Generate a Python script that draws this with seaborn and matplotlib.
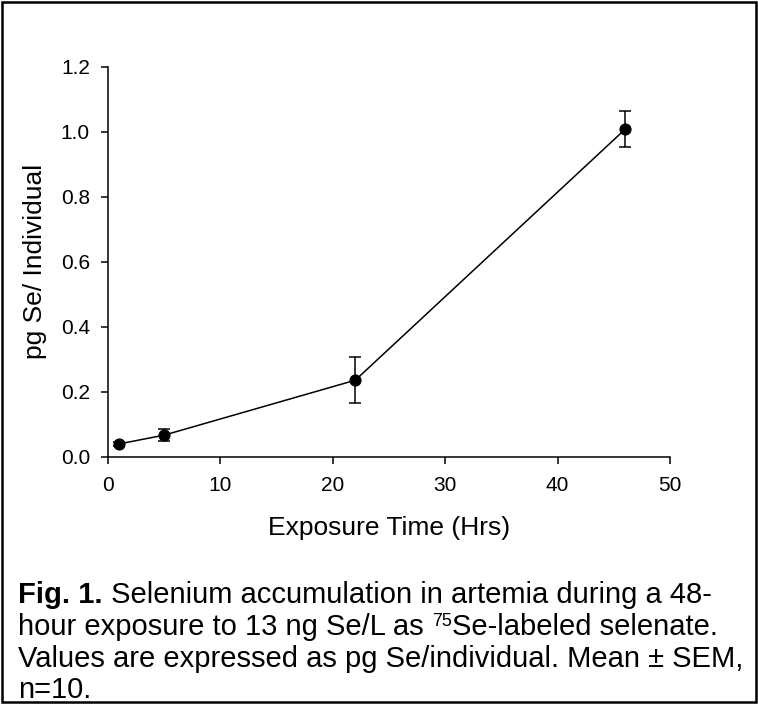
import pandas as pd
import matplotlib
matplotlib.use("Agg")
import matplotlib.pyplot as plt
import seaborn as sns
from matplotlib.patches import Rectangle

hours = [1, 5, 22, 46]
se_mean = [0.040, 0.067, 0.236, 1.008]
se_sem = [0.006, 0.018, 0.070, 0.055]
x_ticks = [0, 10, 20, 30, 40, 50]
y_ticks = [0.0, 0.2, 0.4, 0.6, 0.8, 1.0, 1.2]

sns.set_style("ticks")
plt.rcParams['font.family'] = ['Liberation Sans', 'DejaVu Sans']

df = pd.DataFrame({"hours": hours, "se": se_mean})

fig = plt.figure(figsize=(7.58, 7.04), dpi=100)
ax = fig.add_axes([0.1425, 0.351, 0.7415, 0.554])

ax.errorbar(hours, se_mean, yerr=se_sem, fmt='none', ecolor='black',
            elinewidth=1.1, capsize=4.5, capthick=1.1, zorder=2)
sns.lineplot(data=df, x="hours", y="se", ax=ax, color='black', lw=1.1,
             marker='o', markersize=8, markeredgecolor='black', zorder=3)

ax.set_xlim(0, 50)
ax.set_ylim(0, 1.2)
ax.set_xticks(x_ticks)
ax.set_yticks(y_ticks)
ax.set_xticklabels([str(t) for t in x_ticks])
ax.set_yticklabels([f"{t:.1f}" for t in y_ticks])
ax.tick_params(axis='both', labelsize=15, length=5, width=1.1, direction='out',
               color='black', labelcolor='black')
ax.tick_params(axis='y', pad=8)
ax.tick_params(axis='x', pad=9)
for s in ['left', 'bottom']:
    ax.spines[s].set_color('black')
    ax.spines[s].set_linewidth(1.1)
sns.despine(ax=ax)
ax.set_xlabel("Exposure Time (Hrs)", fontsize=19, labelpad=15, color='black')
ax.set_ylabel("pg Se/ Individual", fontsize=19, labelpad=10, color='black')

# figure frame
fig.patches.append(Rectangle((0.003, 0.003), 0.994, 0.994, transform=fig.transFigure,
                             fill=False, edgecolor='black', linewidth=1.8))

# caption
fs = 21
x0 = 18 / 758
renderer = fig.canvas.get_renderer()


def put(x, y, s, **kw):
    t = fig.text(x, y, s, fontsize=kw.pop('size', fs), va='baseline', ha='left',
                 color='black', **kw)
    bb = t.get_window_extent(renderer=renderer)
    return x + bb.width / fig.bbox.width


base = [603, 635, 667, 698]
ys = [1 - b / 704 for b in base]
x = put(x0, ys[0], "Fig. 1.", fontweight='bold')
put(x, ys[0], " Selenium accumulation in artemia during a 48-")
x = put(x0, ys[1], "hour exposure to 13 ng Se/L as ")
x = put(x, ys[1] + 9 / 704, "75", size=13)
put(x, ys[1], "Se-labeled selenate.")
put(x0, ys[2], "Values are expressed as pg Se/individual. Mean \u00b1 SEM,")
put(x0, ys[3], "n=10.")

fig.savefig("out.png", dpi=100)
